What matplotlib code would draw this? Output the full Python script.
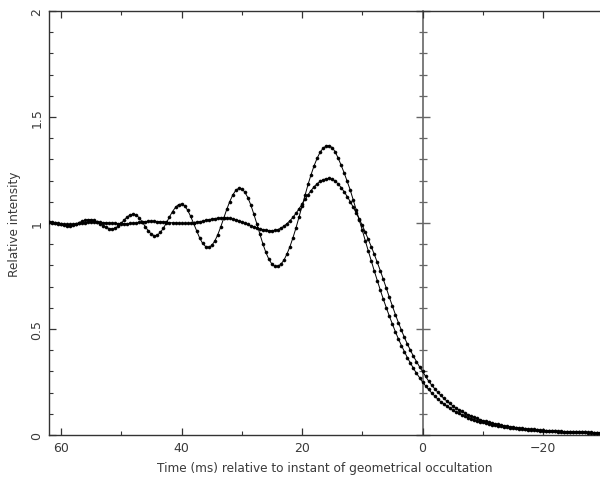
import numpy as np
import matplotlib
matplotlib.use("Agg")
import matplotlib.pyplot as plt
from matplotlib.ticker import MultipleLocator, NullFormatter

# Sampling of the light curves (ms, relative to geometrical occultation)
t_start = 62.0
t_step = 0.5

# Point-source-like diffraction curve (strong fringes)
fringe_strong = [
    1.006, 1.005, 1.002, 0.997, 0.993, 0.989, 0.987, 0.988, 0.990, 0.995,
    1.002, 1.008, 1.013, 1.016, 1.016, 1.012, 1.006, 0.997, 0.988, 0.979,
    0.974, 0.972, 0.976, 0.985, 0.999, 1.015, 1.029, 1.039, 1.042, 1.037,
    1.024, 1.004, 0.982, 0.962, 0.947, 0.940, 0.943, 0.956, 0.976, 1.001,
    1.029, 1.054, 1.074, 1.087, 1.090, 1.081, 1.061, 1.032, 0.998, 0.963,
    0.930, 0.904, 0.889, 0.885, 0.894, 0.914, 0.944, 0.981, 1.022, 1.064,
    1.101, 1.132, 1.154, 1.164, 1.161, 1.146, 1.120, 1.085, 1.042, 0.996,
    0.948, 0.902, 0.861, 0.829, 0.806, 0.795, 0.796, 0.806, 0.825, 0.854,
    0.889, 0.931, 0.977, 1.028, 1.080, 1.131, 1.182, 1.228, 1.270, 1.305,
    1.334, 1.353, 1.363, 1.365, 1.356, 1.336, 1.306, 1.272, 1.236, 1.196,
    1.156, 1.109, 1.062, 1.014, 0.966, 0.916, 0.869, 0.821, 0.773, 0.728,
    0.683, 0.640, 0.600, 0.560, 0.523, 0.487, 0.453, 0.422, 0.393, 0.364,
    0.339, 0.314, 0.291, 0.271, 0.250, 0.232, 0.215, 0.199, 0.185, 0.170,
    0.158, 0.147, 0.136, 0.126, 0.117, 0.109, 0.102, 0.095, 0.088, 0.082,
    0.077, 0.072, 0.067, 0.063, 0.059, 0.055, 0.052, 0.049, 0.046, 0.043,
    0.041, 0.038, 0.036, 0.034, 0.033, 0.031, 0.029, 0.028, 0.026, 0.025,
    0.024, 0.023, 0.022, 0.021, 0.020, 0.019, 0.018, 0.017, 0.017, 0.016,
    0.015, 0.015, 0.014, 0.014, 0.013, 0.013, 0.012, 0.012, 0.012, 0.011,
    0.011, 0.010, 0.010, 0.010,
]

# Extended-source curve (smoothed fringes)
fringe_smooth = [
    1.003, 1.002, 1.000, 0.998, 0.996, 0.994, 0.993, 0.993, 0.994, 0.996,
    0.998, 1.000, 1.002, 1.003, 1.004, 1.004, 1.004, 1.003, 1.002, 1.001,
    1.000, 0.999, 0.998, 0.997, 0.997, 0.997, 0.997, 0.998, 0.999, 1.001,
    1.003, 1.005, 1.007, 1.008, 1.008, 1.008, 1.007, 1.006, 1.005, 1.004,
    1.002, 1.001, 1.000, 0.999, 0.998, 0.998, 0.998, 0.999, 1.001, 1.004,
    1.006, 1.009, 1.013, 1.016, 1.018, 1.021, 1.023, 1.024, 1.024, 1.023,
    1.022, 1.019, 1.015, 1.010, 1.005, 0.999, 0.993, 0.987, 0.982, 0.977,
    0.972, 0.969, 0.966, 0.964, 0.964, 0.965, 0.969, 0.976, 0.985, 0.997,
    1.011, 1.027, 1.046, 1.067, 1.089, 1.111, 1.133, 1.153, 1.171, 1.185,
    1.196, 1.204, 1.209, 1.211, 1.207, 1.198, 1.184, 1.167, 1.147, 1.125,
    1.101, 1.075, 1.048, 1.019, 0.989, 0.957, 0.923, 0.888, 0.852, 0.814,
    0.775, 0.734, 0.692, 0.649, 0.608, 0.568, 0.530, 0.494, 0.460, 0.428,
    0.399, 0.371, 0.346, 0.322, 0.300, 0.277, 0.255, 0.236, 0.219, 0.203,
    0.188, 0.174, 0.161, 0.149, 0.138, 0.128, 0.119, 0.111, 0.103, 0.096,
    0.090, 0.084, 0.078, 0.073, 0.068, 0.064, 0.060, 0.056, 0.053, 0.050,
    0.047, 0.044, 0.041, 0.039, 0.037, 0.035, 0.033, 0.031, 0.030, 0.028,
    0.027, 0.026, 0.024, 0.023, 0.022, 0.021, 0.020, 0.019, 0.018, 0.018,
    0.017, 0.016, 0.015, 0.015, 0.014, 0.014, 0.013, 0.013, 0.012, 0.012,
    0.012, 0.011, 0.011, 0.011,
]

x_ticks = [60, 40, 20, 0, -20]
x_tick_labels = ["60", "40", "20", "0", "\u221220"]
y_ticks = [0, 0.5, 1, 1.5, 2]
y_tick_labels = ["0", "0.5", "1", "1.5", "2"]
x_limits = (62.0, -29.46)
y_limits = (0.0, 2.0)
edge_time = 0.0

time = t_start - t_step * np.arange(len(fringe_strong))

plt.rcParams["font.family"] = ["DejaVu Sans"]
text_col = "#3a3a3a"
axis_col = "#333333"

fig = plt.figure(figsize=(6.0, 4.85), dpi=100)
ax = fig.add_axes([49 / 600, 49 / 485, 551 / 600, 424 / 485])

for series in (fringe_smooth, fringe_strong):
    ax.plot(time, series, "-", color="black", lw=0.7,
            marker="o", ms=2.2, mec="black", mfc="black", mew=0.4, zorder=3)

ax.set_xlim(*x_limits)
ax.set_ylim(*y_limits)

ax.set_xticks(x_ticks)
ax.set_xticklabels(x_tick_labels)
ax.xaxis.set_minor_locator(MultipleLocator(10))
ax.set_yticks(y_ticks)
ax.set_yticklabels(y_tick_labels, rotation=90, va="center")
ax.yaxis.set_minor_locator(MultipleLocator(0.1))

ax.tick_params(which="both", direction="in", top=True, right=False,
               color=axis_col, labelcolor=text_col, labelsize=9)
ax.tick_params(which="major", length=5, width=0.9)
ax.tick_params(which="minor", length=3, width=0.8)
ax.tick_params(axis="x", pad=4.5)
ax.tick_params(axis="y", pad=4)

for side in ("left", "bottom", "top"):
    ax.spines[side].set_color(axis_col)
    ax.spines[side].set_linewidth(1.0)
ax.spines["right"].set_visible(False)

# Vertical axis at the instant of geometrical occultation
frac = (edge_time - x_limits[0]) / (x_limits[1] - x_limits[0])
sec = ax.secondary_yaxis(frac)
sec.set_yticks(y_ticks)
sec.yaxis.set_major_formatter(NullFormatter())
sec.yaxis.set_minor_locator(MultipleLocator(0.1))
sec.yaxis.set_minor_formatter(NullFormatter())
sec.tick_params(which="both", direction="inout", left=True, right=False,
                labelleft=False, labelright=False, color="#666666")
sec.tick_params(which="major", length=10, width=1.0)
sec.tick_params(which="minor", length=6, width=0.9)
for side in ("left", "right"):
    sec.spines[side].set_color("#666666")
    sec.spines[side].set_linewidth(1.2)

ax.set_xlabel("Time (ms) relative to instant of geometrical occultation",
              fontsize=8.7, color=text_col, labelpad=5)
ax.set_ylabel("Relative intensity", fontsize=8.7, color=text_col,
              labelpad=7)

fig.savefig("out.png", dpi=100, facecolor="white")
